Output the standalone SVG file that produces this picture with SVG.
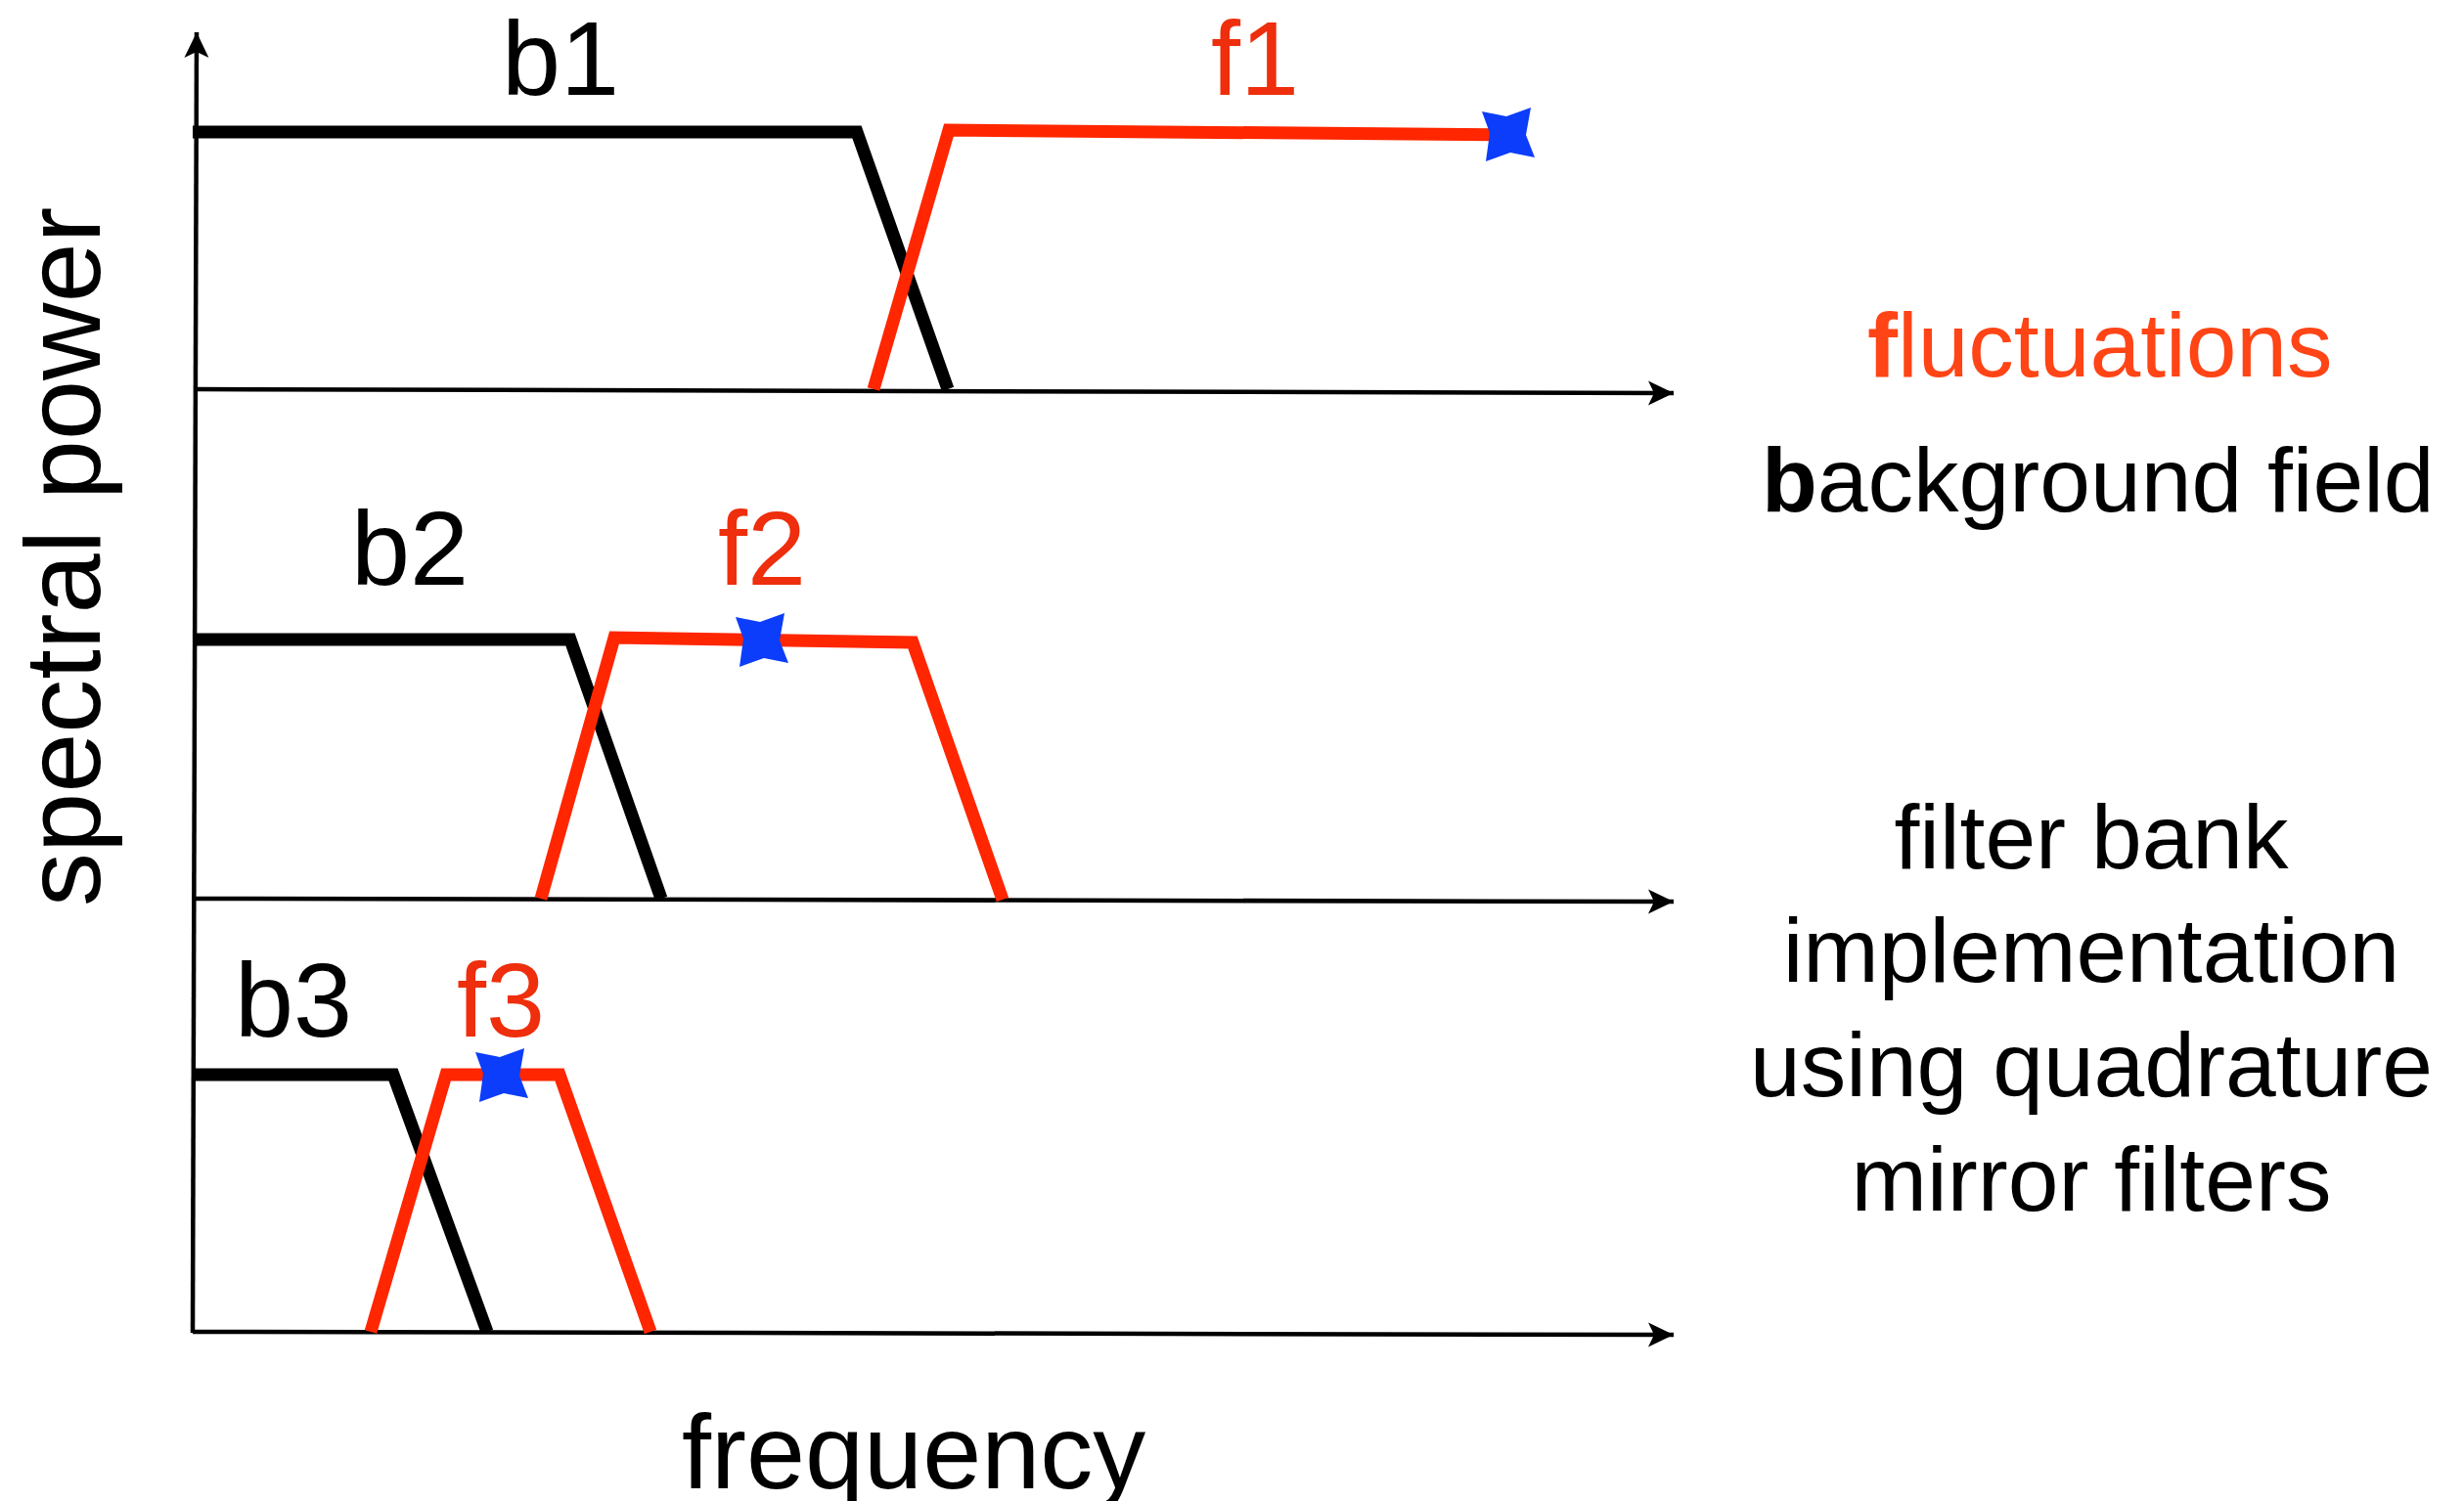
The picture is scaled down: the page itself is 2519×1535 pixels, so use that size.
<svg xmlns="http://www.w3.org/2000/svg" xmlns:xlink="http://www.w3.org/1999/xlink" width="2519" height="1535" viewBox="0 0 2519 1535">
<style>
.axis{fill:none;stroke:#000;stroke-width:4.5;marker-end:url(#arr)}
.bg{fill:none;stroke:#000;stroke-width:13;stroke-linejoin:miter}
.fl{fill:none;stroke:#FF2600;stroke-width:13;stroke-linejoin:miter}
.star{fill:#0B3DFA}
.t{font-family:"Liberation Sans",Arial,Helvetica,sans-serif;fill:#000}
.lab{font-size:108px}
.fr{fill:#EE2E0C}
.side{font-size:93px}
</style>
<defs>
<marker id="arr" markerUnits="userSpaceOnUse" markerWidth="32" markerHeight="32" viewBox="-28 -16 32 32" refX="0" refY="0" orient="auto">
<path d="M0,0 L-26,-12.5 L-20,0 L-26,12.5 Z" fill="#000"/>
</marker>
<path id="starshape" d="M-27,-24 L-2,-19 L23,-28 L18,0 L27,23 L2,18 L-23,27 L-19,-2 Z"/>
</defs>
<rect width="2519" height="1535" fill="#fff"/>

<g id="connectors">
<line id="y-axis" class="axis" x1="197" y1="1363" x2="201" y2="33"/>
<line id="x-axis-1" class="axis" x1="199" y1="398" x2="1711" y2="402"/>
<line id="x-axis-2" class="axis" x1="199" y1="919" x2="1711" y2="922"/>
<line id="x-axis-3" class="axis" x1="197" y1="1362" x2="1711" y2="1365"/>
</g>

<g id="band1">
<polyline class="bg" points="197,135 876,135 969,398"/>
<polyline class="fl" points="893,398 970,133 1542,138"/>
<use class="star" xlink:href="#starshape" href="#starshape" x="1542" y="138"/>
<text class="t lab" x="513" y="97">b1</text>
<text class="t lab fr" x="1238" y="97">f1</text>
</g>

<g id="band2">
<polyline class="bg" points="199,654 583,654 676,919"/>
<polyline class="fl" points="553,919 628,652 933,657 1025,920"/>
<use class="star" xlink:href="#starshape" href="#starshape" x="779" y="655"/>
<text class="t lab" x="359" y="598">b2</text>
<text class="t lab fr" x="734" y="598">f2</text>
</g>

<g id="band3">
<polyline class="bg" points="199,1099 402,1099 498,1362"/>
<polyline class="fl" points="379,1362 456,1099 572,1099 665,1362"/>
<use class="star" xlink:href="#starshape" href="#starshape" x="513" y="1100"/>
<text class="t lab" x="240" y="1060">b3</text>
<text class="t lab fr" x="467" y="1060">f3</text>
</g>

<g id="axis-labels">
<text class="t lab" x="697" y="1522">frequency</text>
<text class="t" font-size="110" transform="translate(102,927) rotate(-90)" x="0" y="0">spectral power</text>
</g>

<g id="legend">
<text class="t side" x="1909" y="385" style="fill:#FF4416"><tspan font-weight="bold">f</tspan>luctuations</text>
<text class="t side" x="1801" y="523"><tspan font-weight="bold">b</tspan>ackground field</text>
</g>

<g id="note">
<text class="t side" text-anchor="middle" x="2138" y="888">filter bank</text>
<text class="t side" text-anchor="middle" x="2138" y="1004">implementation</text>
<text class="t side" text-anchor="middle" x="2138" y="1121">using quadrature</text>
<text class="t side" text-anchor="middle" x="2138" y="1238">mirror filters</text>
</g>
</svg>
